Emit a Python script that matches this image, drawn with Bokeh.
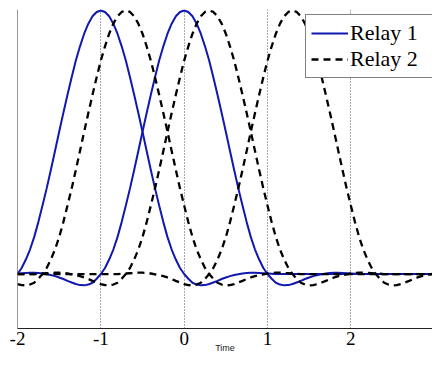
from bokeh.plotting import figure
from bokeh.models import Range1d, FixedTicker, Span, Legend, LegendItem
from bokeh.embed import file_html
from bokeh.resources import INLINE

# sampling positions (Time)
time = [
    -2.00, -1.95, -1.90, -1.85, -1.80, -1.75, -1.70, -1.65, -1.60, -1.55,
    -1.50, -1.45, -1.40, -1.35, -1.30, -1.25, -1.20, -1.15, -1.10, -1.05,
    -1.00, -0.95, -0.90, -0.85, -0.80, -0.75, -0.70, -0.65, -0.60, -0.55,
    -0.50, -0.45, -0.40, -0.35, -0.30, -0.25, -0.20, -0.15, -0.10, -0.05,
    0.00, 0.05, 0.10, 0.15, 0.20, 0.25, 0.30, 0.35, 0.40, 0.45,
    0.50, 0.55, 0.60, 0.65, 0.70, 0.75, 0.80, 0.85, 0.90, 0.95,
    1.00, 1.05, 1.10, 1.15, 1.20, 1.25, 1.30, 1.35, 1.40, 1.45,
    1.50, 1.55, 1.60, 1.65, 1.70, 1.75, 1.80, 1.85, 1.90, 1.95,
    2.00, 2.05, 2.10, 2.15, 2.20, 2.25, 2.30, 2.35, 2.40, 2.45,
    2.50, 2.55, 2.60, 2.65, 2.70, 2.75, 2.80, 2.85, 2.90, 2.95,
    3.00,
]

# Relay 1, pulse peaking at t = -1
relay1_a = [
    0.000, 0.023, 0.055, 0.093, 0.140, 0.197, 0.260, 0.325, 0.395, 0.467,
    0.540, 0.611, 0.680, 0.747, 0.810, 0.864, 0.912, 0.950, 0.978, 0.9945,
    1.000, 0.9945, 0.978, 0.950, 0.912, 0.864, 0.810, 0.747, 0.680, 0.611,
    0.540, 0.467, 0.395, 0.325, 0.260, 0.197, 0.140, 0.093, 0.055, 0.023,
    0.000, -0.018, -0.033, -0.040, -0.043, -0.042, -0.038, -0.032, -0.026, -0.019,
    -0.013, -0.008, -0.004, -0.001, 0.002, 0.004, 0.005, 0.005, 0.004, 0.003,
    0.002, 0.001, 0.000, 0.000, 0.000, 0.000, 0.000, 0.000, 0.000, 0.000,
    0.000, 0.000, 0.000, 0.000, 0.000, 0.000, 0.000, 0.000, 0.000, 0.000,
    0.000, 0.000, 0.000, 0.000, 0.000, 0.000, 0.000, 0.000, 0.000, 0.000,
    0.000, 0.000, 0.000, 0.000, 0.000, 0.000, 0.000, 0.000, 0.000, 0.000,
    0.000,
]

# Relay 1, pulse peaking at t = 0
relay1_b = [
    0.002, 0.003, 0.004, 0.005, 0.005, 0.004, 0.002, -0.001, -0.004, -0.008,
    -0.013, -0.019, -0.026, -0.032, -0.038, -0.042, -0.043, -0.040, -0.033, -0.018,
    0.000, 0.023, 0.055, 0.093, 0.140, 0.197, 0.260, 0.325, 0.395, 0.467,
    0.540, 0.611, 0.680, 0.747, 0.810, 0.864, 0.912, 0.950, 0.978, 0.9945,
    1.000, 0.9945, 0.978, 0.950, 0.912, 0.864, 0.810, 0.747, 0.680, 0.611,
    0.540, 0.467, 0.395, 0.325, 0.260, 0.197, 0.140, 0.093, 0.055, 0.023,
    0.000, -0.018, -0.033, -0.040, -0.043, -0.042, -0.038, -0.032, -0.026, -0.019,
    -0.013, -0.008, -0.004, -0.001, 0.002, 0.004, 0.005, 0.005, 0.004, 0.003,
    0.002, 0.001, 0.000, 0.000, 0.000, 0.000, 0.000, 0.000, 0.000, 0.000,
    0.000, 0.000, 0.000, 0.000, 0.000, 0.000, 0.000, 0.000, 0.000, 0.000,
    0.000,
]

# Relay 2, pulse peaking at t = -0.7
relay2_a = [
    -0.038, -0.042, -0.043, -0.040, -0.033, -0.018, 0.000, 0.023, 0.055, 0.093,
    0.140, 0.197, 0.260, 0.325, 0.395, 0.467, 0.540, 0.611, 0.680, 0.747,
    0.810, 0.864, 0.912, 0.950, 0.978, 0.9945, 1.000, 0.9945, 0.978, 0.950,
    0.912, 0.864, 0.810, 0.747, 0.680, 0.611, 0.540, 0.467, 0.395, 0.325,
    0.260, 0.197, 0.140, 0.093, 0.055, 0.023, 0.000, -0.018, -0.033, -0.040,
    -0.043, -0.042, -0.038, -0.032, -0.026, -0.019, -0.013, -0.008, -0.004, -0.001,
    0.002, 0.004, 0.005, 0.005, 0.004, 0.003, 0.002, 0.001, 0.000, 0.000,
    0.000, 0.000, 0.000, 0.000, 0.000, 0.000, 0.000, 0.000, 0.000, 0.000,
    0.000, 0.000, 0.000, 0.000, 0.000, 0.000, 0.000, 0.000, 0.000, 0.000,
    0.000, 0.000, 0.000, 0.000, 0.000, 0.000, 0.000, 0.000, 0.000, 0.000,
    0.000,
]

# Relay 2, pulse peaking at t = 0.3
relay2_b = [
    0.000, 0.000, 0.000, 0.000, 0.000, 0.001, 0.002, 0.003, 0.004, 0.005,
    0.005, 0.004, 0.002, -0.001, -0.004, -0.008, -0.013, -0.019, -0.026, -0.032,
    -0.038, -0.042, -0.043, -0.040, -0.033, -0.018, 0.000, 0.023, 0.055, 0.093,
    0.140, 0.197, 0.260, 0.325, 0.395, 0.467, 0.540, 0.611, 0.680, 0.747,
    0.810, 0.864, 0.912, 0.950, 0.978, 0.9945, 1.000, 0.9945, 0.978, 0.950,
    0.912, 0.864, 0.810, 0.747, 0.680, 0.611, 0.540, 0.467, 0.395, 0.325,
    0.260, 0.197, 0.140, 0.093, 0.055, 0.023, 0.000, -0.018, -0.033, -0.040,
    -0.043, -0.042, -0.038, -0.032, -0.026, -0.019, -0.013, -0.008, -0.004, -0.001,
    0.002, 0.004, 0.005, 0.005, 0.004, 0.003, 0.002, 0.001, 0.000, 0.000,
    0.000, 0.000, 0.000, 0.000, 0.000, 0.000, 0.000, 0.000, 0.000, 0.000,
    0.000,
]

# Relay 2, pulse peaking at t = 1.3
relay2_c = [
    0.000, 0.000, 0.000, 0.000, 0.000, 0.000, 0.000, 0.000, 0.000, 0.000,
    0.000, 0.000, 0.000, 0.000, 0.000, 0.000, 0.000, 0.000, 0.000, 0.000,
    0.000, 0.000, 0.000, 0.000, 0.000, 0.001, 0.002, 0.003, 0.004, 0.005,
    0.005, 0.004, 0.002, -0.001, -0.004, -0.008, -0.013, -0.019, -0.026, -0.032,
    -0.038, -0.042, -0.043, -0.040, -0.033, -0.018, 0.000, 0.023, 0.055, 0.093,
    0.140, 0.197, 0.260, 0.325, 0.395, 0.467, 0.540, 0.611, 0.680, 0.747,
    0.810, 0.864, 0.912, 0.950, 0.978, 0.9945, 1.000, 0.9945, 0.978, 0.950,
    0.912, 0.864, 0.810, 0.747, 0.680, 0.611, 0.540, 0.467, 0.395, 0.325,
    0.260, 0.197, 0.140, 0.093, 0.055, 0.023, 0.000, -0.018, -0.033, -0.040,
    -0.043, -0.042, -0.038, -0.032, -0.026, -0.019, -0.013, -0.008, -0.004, -0.001,
    0.002,
]

tick_values = [-2, -1, 0, 1, 2]
tick_labels = ["-2", "-1", "0", "1", "2"]
series_names = ["Relay 1", "Relay 2"]
axis_title = "Time"

BLUE = "#1018b0"
BLACK = "#000000"

p = figure(
    width=432, height=360,
    output_backend="svg", toolbar_location=None,
    x_range=Range1d(-2.0, 2.98), y_range=Range1d(-0.2067, 1.0038),
    min_border_left=17, min_border_right=0, min_border_top=9, min_border_bottom=32,
)
p.outline_line_color = None
p.background_fill_color = "white"
p.border_fill_color = "white"

p.yaxis.visible = False
p.ygrid.visible = False

ax = p.xaxis[0]
ax.ticker = FixedTicker(ticks=tick_values)
ax.major_label_overrides = {v: s for v, s in zip(tick_values, tick_labels)}
ax.axis_line_color = "#222222"
ax.axis_line_width = 1
ax.major_tick_in = 0
ax.major_tick_out = 0
ax.minor_tick_in = 0
ax.minor_tick_out = 0
ax.major_label_standoff = 3
ax.major_label_text_font = "Liberation Serif"
ax.major_label_text_font_size = "19px"
ax.major_label_text_color = "black"
ax.axis_label = axis_title
ax.axis_label_text_font = "Liberation Sans"
ax.axis_label_text_font_style = "normal"
ax.axis_label_text_font_size = "9px"
ax.axis_label_text_color = "#222222"
ax.axis_label_standoff = -5

g = p.xgrid[0]
g.ticker = FixedTicker(ticks=tick_values)
g.grid_line_color = "#555555"
g.grid_line_dash = "1 2"
g.grid_line_width = 1

p.add_layout(Span(location=-2.0, dimension="height", line_color="#333333", line_width=1))

b1 = p.line(time, relay1_a, line_color=BLUE, line_width=2)
p.line(time, relay1_b, line_color=BLUE, line_width=2)
k1 = p.line(time, relay2_a, line_color=BLACK, line_width=2.3, line_dash="7 5")
p.line(time, relay2_b, line_color=BLACK, line_width=2.3, line_dash="7 5")
p.line(time, relay2_c, line_color=BLACK, line_width=2.3, line_dash="7 5")

legend = Legend(
    items=[LegendItem(label=series_names[0], renderers=[b1]),
           LegendItem(label=series_names[1], renderers=[k1])],
    location=(288, 250),
    border_line_color="black", border_line_width=1,
    background_fill_color="white", background_fill_alpha=1.0,
    label_text_font="Liberation Serif", label_text_font_size="22px",
    label_text_color="black",
    glyph_width=37, glyph_height=20, label_height=20, label_width=80,
    label_standoff=2, padding=5, spacing=0, margin=0,
)
p.add_layout(legend)

open("out.html", "w").write(file_html(p, INLINE))
